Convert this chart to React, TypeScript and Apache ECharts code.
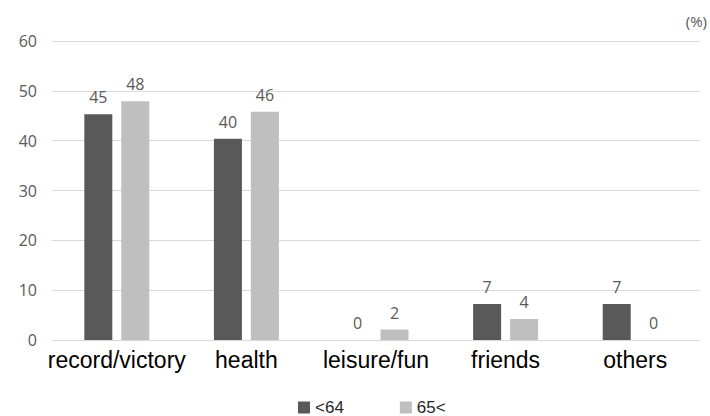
import React, { useEffect, useRef } from "react";
import * as echarts from "echarts";

const categories = ["record/victory", "health", "leisure/fun", "friends", "others"];
const seriesNames = ["<64", "65<"];
const under64 = [45.3, 40.4, 0, 7.2, 7.2];
const over65 = [47.9, 45.8, 2.1, 4.2, 0];
const yTicks = { min: 0, max: 60, interval: 10 };

export default function App() {
  const ref = useRef<HTMLDivElement>(null);
  useEffect(() => {
    if (!ref.current) return;
    const chart = echarts.init(ref.current, undefined, { renderer: "svg" });
    const labelCfg = {
      show: true,
      position: "top",
      distance: 9,
      color: "#595959",
      fontSize: 16,
      fontFamily: "Open Sans, Liberation Sans, sans-serif",
      formatter: (p: any) => String(Math.round(p.value)),
    };
    chart.setOption({
      animation: false,
      backgroundColor: "#ffffff",
      grid: { left: 52, right: 10, top: 41, bottom: 76, containLabel: false },
      legend: {
        top: 399,
        left: 298,
        padding: 0,
        itemWidth: 12,
        itemHeight: 12,
        itemGap: 56,
        icon: "rect",
        textStyle: { fontSize: 17, color: "#262626", fontFamily: "Liberation Sans, Arial, sans-serif" },
        data: seriesNames,
      },
      graphic: [
        {
          type: "text",
          right: 3,
          top: 13,
          style: { text: "(%)", fontSize: 15, fill: "#595959", fontFamily: "Open Sans, Liberation Sans, sans-serif" },
        },
      ],
      xAxis: {
        type: "category",
        data: categories,
        axisLine: { show: true, lineStyle: { color: "#d9d9d9", width: 1 } },
        axisTick: { show: false },
        axisLabel: {
          interval: 0,
          color: "#000000",
          fontSize: 23,
          margin: 8,
          fontFamily: "Liberation Sans, Arial, sans-serif",
        },
      },
      yAxis: {
        type: "value",
        min: yTicks.min,
        max: yTicks.max,
        interval: yTicks.interval,
        axisLine: { show: false },
        axisTick: { show: false },
        splitLine: { lineStyle: { color: "#d9d9d9", width: 1 } },
        axisLabel: {
          color: "#595959",
          fontSize: 16,
          margin: 15,
          fontFamily: "Open Sans, Liberation Sans, sans-serif",
        },
      },
      series: [
        {
          name: seriesNames[0],
          type: "bar",
          data: under64,
          barWidth: 28,
          barGap: "32%",
          itemStyle: { color: "#595959" },
          label: labelCfg,
        },
        {
          name: seriesNames[1],
          type: "bar",
          data: over65,
          barWidth: 28,
          barGap: "32%",
          itemStyle: { color: "#bfbfbf" },
          label: labelCfg,
        },
      ],
    });
    return () => chart.dispose();
  }, []);
  return (
    <div
      ref={ref}
      style={{ position: "fixed", left: 0, top: 0, width: 710, height: 416, background: "#fff" }}
    />
  );
}
